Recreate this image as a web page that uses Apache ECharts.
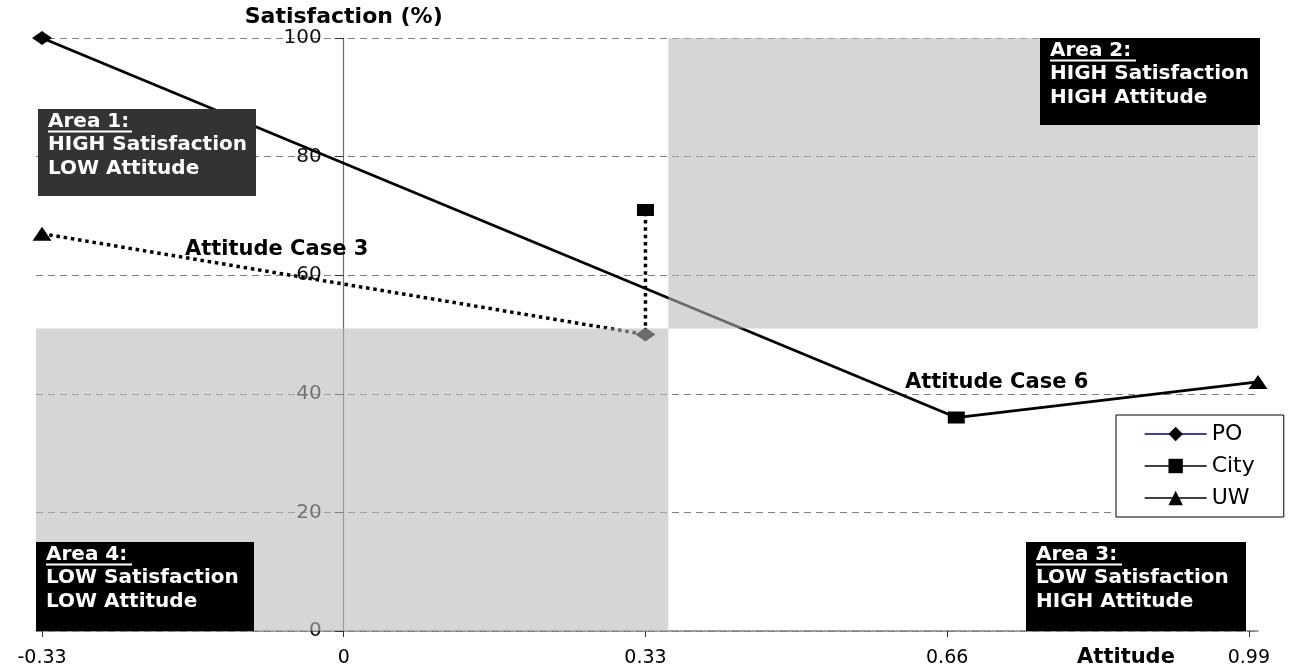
<!DOCTYPE html>
<html lang="en">
<head>
<meta charset="UTF-8">
<title>Satisfaction vs Attitude</title>
<script src="https://cdn.jsdelivr.net/npm/echarts@6/dist/echarts.min.js"></script>
<style>
html, body {margin: 0; padding: 0; background: #fff;}
#main {width: 1295px; height: 671px;}
</style>
</head>
<body>
<div id="main"></div>
<script>
// chart values
var xTicks = [-0.33, 0, 0.33, 0.66, 0.99];
var xTickLabels = ['-0.33', '0', '0.33', '0.66', '0.99'];
var poPoints = [[-0.33, 100], [0.33, 50]];
var cityPoints = [[0.33, 71], [0.67, 36]];
var uwPoints = [[-0.33, 67], [1.0, 42]];
var case3Line = [[-0.33, 67], [0.33, 50], [0.33, 71]];
var case6Line = [[-0.33, 100], [0.67, 36], [1.0, 42]];
var splitX = 0.355, splitY = 51;

var FONT = '"DejaVu Sans", sans-serif';
var X_MIN = -0.3366, X_MAX = 1.0;
var GRID_L = 36, GRID_R = 37;
var chart = echarts.init(document.getElementById('main'));

// shift the y axis to x = 0 (labels follow it, like the original)
var pxPerUnit = (1295 - GRID_L - GRID_R) / (X_MAX - X_MIN);
var yAxisShift = -(0 - X_MIN) * pxPerUnit;

function areaBox(x, y, w, h, bg, title, l2, l3, ulw) {
    var f = 'bold 20px ' + FONT;
    return {
        type: 'group', z: 100,
        children: [
            {type: 'rect', z: 100, shape: {x: x, y: y, width: w, height: h}, style: {fill: bg}},
            {type: 'text', z: 101, x: x + 10, y: y + 12.5, style: {text: title, fill: '#fff', font: f, verticalAlign: 'middle'}},
            {type: 'line', z: 101, shape: {x1: x + 10, y1: y + 22.5, x2: x + 10 + ulw, y2: y + 22.5}, style: {stroke: '#fff', lineWidth: 1.8}},
            {type: 'text', z: 101, x: x + 10, y: y + 36, style: {text: l2, fill: '#fff', font: f, verticalAlign: 'middle'}},
            {type: 'text', z: 101, x: x + 10, y: y + 59.5, style: {text: l3, fill: '#fff', font: f, verticalAlign: 'middle'}}
        ]
    };
}

chart.setOption({
    backgroundColor: '#fff',
    animation: false,
    grid: {left: GRID_L, right: GRID_R, top: 38, bottom: 40, containLabel: false, outerBoundsMode: 'none'},
    xAxis: {
        type: 'value',
        min: X_MIN,
        max: X_MAX,
        axisLine: {onZero: false, lineStyle: {color: '#808080', width: 1.5}},
        axisTick: {customValues: xTicks, length: 6, lineStyle: {color: '#333'}},
        axisLabel: {
            customValues: xTicks,
            margin: 18,
            color: '#000',
            fontSize: 19,
            fontFamily: FONT,
            formatter: function (v) {
                var i = xTicks.indexOf(v);
                return i >= 0 ? xTickLabels[i] : '';
            }
        },
        splitLine: {show: false}
    },
    yAxis: {
        type: 'value',
        position: 'left',
        offset: yAxisShift,
        min: 0,
        max: 100,
        interval: 20,
        name: 'Satisfaction (%)',
        nameLocation: 'end',
        nameGap: 9,
        nameTextStyle: {color: '#000', fontSize: 22, fontWeight: 'bold', fontFamily: FONT},
        axisLine: {show: true, onZero: false, lineStyle: {color: '#707070', width: 1.2}},
        axisTick: {length: 9, lineStyle: {color: '#333'}},
        axisLabel: {margin: 22, color: '#111', fontSize: 20, fontFamily: FONT},
        splitLine: {lineStyle: {color: '#808080', type: [7, 5], width: 1}}
    },
    legend: {
        orient: 'vertical',
        left: 1116,
        top: 415,
        z: 200,
        backgroundColor: '#fff',
        borderColor: '#000',
        borderWidth: 1,
        borderRadius: 0,
        padding: [8, 29, 8, 28],
        itemGap: 10,
        itemWidth: 62,
        itemHeight: 18,
        itemStyle: {color: '#000', opacity: 1},
        lineStyle: {width: 1.3, opacity: 1, color: '#000'},
        textStyle: {color: '#000', fontSize: 22, fontFamily: FONT},
        data: [
            {name: 'PO', lineStyle: {color: '#000080'}},
            {name: 'City'},
            {name: 'UW'}
        ]
    },
    series: [
        {
            name: 'Attitude Case 6',
            type: 'line',
            z: 2,
            data: case6Line,
            showSymbol: false,
            lineStyle: {color: '#000', width: 2.8}
        },
        {
            name: 'Attitude Case 3',
            type: 'line',
            z: 2,
            data: case3Line,
            showSymbol: false,
            lineStyle: {color: '#000', width: 3.5, type: [3.5, 3.8], cap: 'butt'}
        },
        {
            name: 'PO',
            type: 'line',
            z: 3,
            data: poPoints,
            symbol: 'diamond',
            symbolSize: [20, 14],
            itemStyle: {color: '#000'},
            lineStyle: {opacity: 0}
        },
        {
            name: 'City',
            type: 'line',
            z: 3,
            data: cityPoints,
            symbol: 'rect',
            symbolSize: [17, 12],
            itemStyle: {color: '#000'},
            lineStyle: {opacity: 0}
        },
        {
            name: 'UW',
            type: 'line',
            z: 3,
            data: uwPoints,
            symbol: 'triangle',
            symbolSize: [19, 14],
            itemStyle: {color: '#000'},
            lineStyle: {opacity: 0}
        },
        {
            name: 'shade',
            type: 'line',
            data: [],
            markArea: {
                z: 10,
                silent: true,
                itemStyle: {color: 'rgba(185,185,185,0.58)'},
                data: [
                    [{coord: [X_MIN, 0]}, {coord: [splitX, splitY]}],
                    [{coord: [splitX, splitY]}, {coord: [X_MAX, 100]}]
                ]
            }
        }
    ],
    graphic: [
        areaBox(38, 109, 218, 87, '#333333', 'Area 1:', 'HIGH Satisfaction', 'LOW Attitude', 84),
        areaBox(1040, 38, 220, 87, '#000', 'Area 2:', 'HIGH Satisfaction', 'HIGH Attitude', 86),
        areaBox(1026, 542, 220, 89, '#000', 'Area 3:', 'LOW Satisfaction', 'HIGH Attitude', 86),
        areaBox(36, 542, 218, 89, '#000', 'Area 4:', 'LOW Satisfaction', 'LOW Attitude', 86),
        {type: 'text', z: 100, x: 185, y: 250, style: {text: 'Attitude Case 3', fill: '#000', font: 'bold 21px ' + FONT, verticalAlign: 'middle'}},
        {type: 'text', z: 100, x: 905, y: 383, style: {text: 'Attitude Case 6', fill: '#000', font: 'bold 21px ' + FONT, verticalAlign: 'middle'}},
        {type: 'text', z: 100, x: 1126, y: 658, style: {text: 'Attitude', fill: '#000', font: 'bold 21px ' + FONT, align: 'center', verticalAlign: 'middle'}}
    ]
});
</script>
</body>
</html>
